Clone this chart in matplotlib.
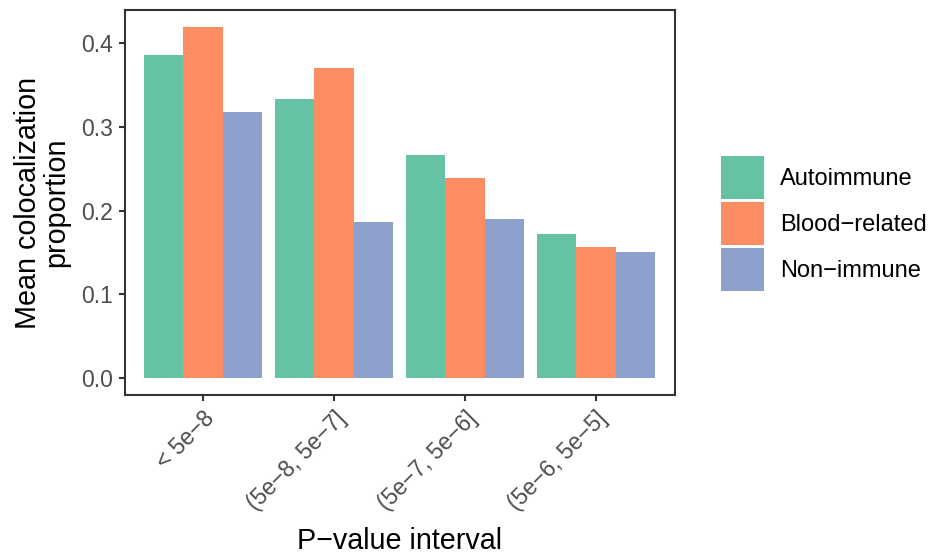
import numpy as np
import matplotlib.pyplot as plt

plt.rcParams['font.family'] = ['Liberation Sans', 'DejaVu Sans']

intervals = ["< 5e\u22128", "(5e\u22128, 5e\u22127]", "(5e\u22127, 5e\u22126]", "(5e\u22126, 5e\u22125]"]
groups = ["Autoimmune", "Blood\u2212related", "Non\u2212immune"]
autoimmune = [0.386, 0.333, 0.267, 0.172]
blood_related = [0.419, 0.370, 0.239, 0.156]
non_immune = [0.318, 0.187, 0.190, 0.150]
colors = ["#66C2A5", "#FC8D62", "#8DA0CB"]

W, H = 930, 554
fig = plt.figure(figsize=(W / 100, H / 100), dpi=100)
left, right, top, bottom = 124.5, 674.5, 10, 395
ax = fig.add_axes([left / W, 1 - bottom / H, (right - left) / W, (bottom - top) / H])

x = np.arange(1, len(intervals) + 1)
w = 0.3
bars = []
for i, (vals, c) in enumerate(zip([autoimmune, blood_related, non_immune], colors)):
    bars.append(ax.bar(x + (i - 1) * w, vals, width=w, color=c, linewidth=0))

ax.set_xlim(0.4, 4.6)
ax.set_ylim(-0.0203, 0.4398)
ax.set_yticks([0.0, 0.1, 0.2, 0.3, 0.4])
ax.set_yticklabels(["0.0", "0.1", "0.2", "0.3", "0.4"])
ax.set_xticks(x)
ax.set_xticklabels(intervals, rotation=45, ha="right", rotation_mode="anchor")

for s in ax.spines.values():
    s.set_color("#333333")
    s.set_linewidth(1.5)
ax.tick_params(axis="both", colors="#333333", width=1.5, length=4.5,
               labelsize=16.5, labelcolor="#4D4D4D", pad=4)

ax.set_xlabel("P\u2212value interval", fontsize=20.7)
ax.xaxis.label.set_va("baseline")
ax.xaxis.set_label_coords(0.5, (bottom - 549) / (bottom - top))

ax.set_ylabel("Mean colocalization\nproportion", fontsize=20.7, ha="center", va="center",
              linespacing=1.0)
ax.yaxis.set_label_coords((42 - left) / (right - left), 0.5)

# key boxes ~43px square with a thin gap between rows
fig.legend([b[0] for b in bars], groups, loc="center left",
           bbox_to_anchor=(721 / W, 1 - 223.5 / H),
           frameon=False, fontsize=17, handlelength=1.82, handleheight=2.426,
           handletextpad=0.68, labelspacing=0.127, borderpad=0, borderaxespad=0)

fig.savefig("out.png", dpi=100)
